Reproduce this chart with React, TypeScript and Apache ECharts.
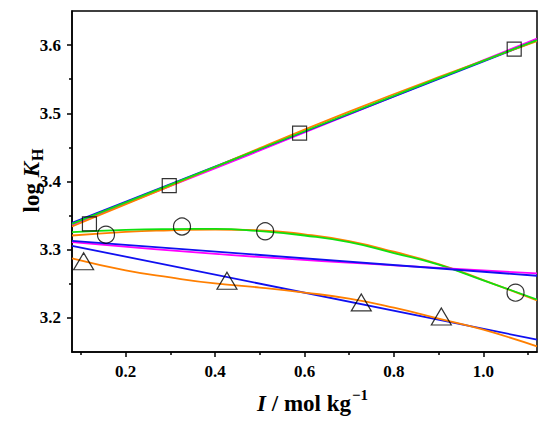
import React, { useEffect, useRef } from "react";
import * as echarts from "echarts";

// ---- data ----
const squareI = [0.119, 0.2975, 0.589, 1.069];
const squareLogK = [3.338, 3.394, 3.471, 3.594];
const circleI = [0.156, 0.326, 0.512, 1.072];
const circleLogK = [3.322, 3.334, 3.327, 3.237];
const triangleI = [0.106, 0.4266, 0.727, 0.906];
const triangleLogK = [3.283, 3.2545, 3.2227, 3.202];

// fitted curves
const lineEndsI = [0.08, 1.12];
const squareFitBlue = [3.3395, 3.607];
const squareFitGreenI = [0.08, 0.48, 0.86, 1.12];
const squareFitGreen = [3.3379, 3.4423, 3.5414, 3.6073];
const squareFitMagentaI = [0.08, 0.48, 1.12];
const squareFitMagenta = [3.3365, 3.4402, 3.6095];
const squareFitOrangeI = [0.08, 0.3, 0.5, 0.7, 0.9, 1.12];
const squareFitOrange = [3.334, 3.3935, 3.449, 3.5025, 3.553, 3.6058];

const curveI = [0.08, 0.2, 0.3, 0.4, 0.5, 0.6, 0.7, 0.8, 0.9, 1.0, 1.12];
const circleFitGreen = [3.3258, 3.3291, 3.3303, 3.3306, 3.3272, 3.3208, 3.311, 3.295, 3.278, 3.255, 3.227];
const circleFitOrange = [3.3208, 3.3262, 3.3284, 3.3296, 3.3284, 3.3225, 3.3125, 3.297, 3.279, 3.2555, 3.2255];

const midFitBlue = [3.313, 3.2618];
const midFitMagentaI = [0.08, 0.43, 0.8, 1.12];
const midFitMagenta = [3.3111, 3.2925, 3.277, 3.2652];

const triangleFitBlue = [3.3057, 3.1681];
const triangleFitOrange = [3.2874, 3.2698, 3.2593, 3.2505, 3.2445, 3.2372, 3.2283, 3.2151, 3.199, 3.1827, 3.1583];

const xMajorTicks = [0.2, 0.4, 0.6, 0.8, 1.0];
const xMinorTicks = [0.1, 0.3, 0.5, 0.7, 0.9, 1.1];
const yMajorTicks = [3.2, 3.3, 3.4, 3.5, 3.6];
const yMinorTicks = [3.25, 3.35, 3.45, 3.55];

const BLUE = "#1010f0";
const GREEN = "#10e010";
const MAGENTA = "#ff00ff";
const ORANGE = "#ff7f00";
const FONT = "'Liberation Serif', 'Times New Roman', serif";

const zip = (xs: number[], ys: number[]) => xs.map((x, i) => [x, ys[i]]);

function lineSeries(xs: number[], ys: number[], color: string) {
  return {
    type: "line",
    data: zip(xs, ys),
    smooth: 0.5,
    showSymbol: false,
    symbol: "none",
    lineStyle: { color, width: 1.8 },
    silent: true,
    z: 2,
  };
}

function markerSeries(xs: number[], ys: number[], symbol: string, size: any) {
  return {
    type: "scatter",
    data: zip(xs, ys),
    symbol,
    symbolSize: size,
    itemStyle: { color: "rgba(0,0,0,0)", borderColor: "#000", borderWidth: 1.2 },
    silent: true,
    z: 5,
  };
}

const labelStyle = {
  fontFamily: FONT,
  fontSize: 17,
  fontWeight: "bold",
  color: "#000",
};

const option: any = {
  animation: false,
  backgroundColor: "#fff",
  grid: {
    left: 72,
    right: 13,
    top: 11,
    bottom: 70,
    show: true,
    borderColor: "#000",
    borderWidth: 1.5,
    backgroundColor: "rgba(0,0,0,0)",
    outerBoundsMode: "none",
  },
  xAxis: [
    {
      type: "value",
      min: 0.08,
      max: 1.12,
      position: "bottom",
      axisLine: { show: true, onZero: false, lineStyle: { color: "#000", width: 1.5 } },
      axisTick: { show: true, customValues: xMajorTicks, length: 5, lineStyle: { color: "#000", width: 1.5 } },
      axisLabel: { ...labelStyle, customValues: xMajorTicks, margin: 11, formatter: (v: number) => v.toFixed(1) },
      splitLine: { show: false },
    },
    {
      type: "value",
      min: 0.08,
      max: 1.12,
      position: "bottom",
      axisLine: { show: false, onZero: false },
      axisTick: { show: true, customValues: xMinorTicks, length: 3, lineStyle: { color: "#000", width: 1.5 } },
      axisLabel: { show: false },
      splitLine: { show: false },
    },
  ],
  yAxis: [
    {
      type: "value",
      min: 3.15,
      max: 3.65,
      position: "left",
      axisLine: { show: true, onZero: false, lineStyle: { color: "#000", width: 1.5 } },
      axisTick: { show: true, customValues: yMajorTicks, length: 5, lineStyle: { color: "#000", width: 1.5 } },
      axisLabel: { ...labelStyle, customValues: yMajorTicks, margin: 11, formatter: (v: number) => v.toFixed(1) },
      splitLine: { show: false },
    },
    {
      type: "value",
      min: 3.15,
      max: 3.65,
      position: "left",
      axisLine: { show: false, onZero: false },
      axisTick: { show: true, customValues: yMinorTicks, length: 3, lineStyle: { color: "#000", width: 1.5 } },
      axisLabel: { show: false },
      splitLine: { show: false },
    },
  ],
  series: [
    lineSeries(squareFitMagentaI, squareFitMagenta, MAGENTA),
    lineSeries(lineEndsI, squareFitBlue, BLUE),
    lineSeries(squareFitOrangeI, squareFitOrange, ORANGE),
    lineSeries(squareFitGreenI, squareFitGreen, GREEN),
    lineSeries(curveI, circleFitOrange, ORANGE),
    lineSeries(curveI, circleFitGreen, GREEN),
    lineSeries(midFitMagentaI, midFitMagenta, MAGENTA),
    lineSeries(lineEndsI, midFitBlue, BLUE),
    lineSeries(lineEndsI, triangleFitBlue, BLUE),
    lineSeries(curveI, triangleFitOrange, ORANGE),
    markerSeries(squareI, squareLogK, "rect", 14),
    markerSeries(circleI, circleLogK, "circle", 17),
    markerSeries(triangleI, triangleLogK, "triangle", [20, 17]),
  ],
  graphic: [
    {
      type: "group",
      x: 31,
      y: 180,
      rotation: Math.PI / 2,
      children: [
        {
          type: "text",
          x: 18,
          y: 0,
          style: {
            text: "{a|log }{b|K}",
            rich: {
              a: { fontFamily: FONT, fontSize: 23, fontWeight: "bold", fill: "#000" },
              b: { fontFamily: FONT, fontSize: 23, fontWeight: "bold", fontStyle: "italic", fill: "#000" },
            },
            align: "right",
            verticalAlign: "middle",
          },
        },
        {
          type: "text",
          x: 19,
          y: 6,
          style: {
            text: "H",
            fontFamily: FONT,
            fontSize: 16,
            fontWeight: "bold",
            fill: "#000",
            align: "left",
            verticalAlign: "middle",
          },
        },
      ],
    },
    {
      type: "group",
      x: 321,
      y: 403,
      children: [
        {
          type: "text",
          x: 30,
          y: 0,
          style: {
            text: "{i|I}{n| / mol kg}",
            rich: {
              i: { fontFamily: FONT, fontSize: 23, fontWeight: "bold", fontStyle: "italic", fill: "#000" },
              n: { fontFamily: FONT, fontSize: 23, fontWeight: "bold", fill: "#000" },
            },
            align: "right",
            verticalAlign: "middle",
          },
        },
        {
          type: "text",
          x: 31,
          y: -8,
          style: {
            text: "\u22121",
            fontFamily: FONT,
            fontSize: 15,
            fontWeight: "bold",
            fill: "#000",
            align: "left",
            verticalAlign: "middle",
          },
        },
      ],
    },
  ],
};

export default function App() {
  const ref = useRef<HTMLDivElement>(null);
  useEffect(() => {
    const chart = echarts.init(ref.current!, null, { renderer: "svg" });
    chart.setOption(option);
    return () => chart.dispose();
  }, []);
  return (
    <div
      ref={ref}
      style={{ position: "fixed", left: 0, top: 0, width: 550, height: 422, background: "#fff" }}
    />
  );
}
